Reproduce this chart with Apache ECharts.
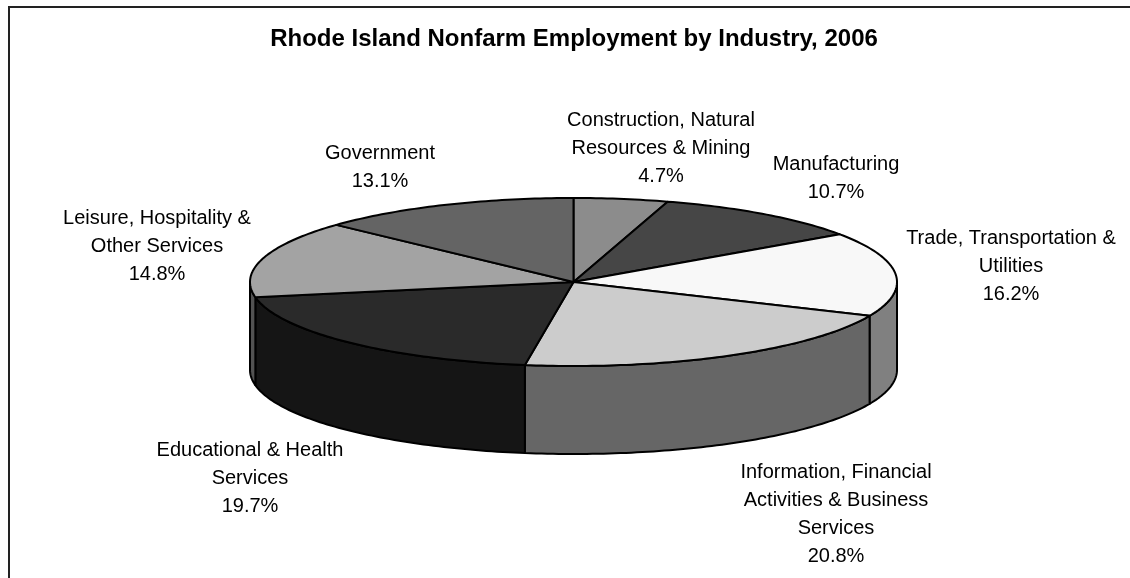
<!DOCTYPE html>
<html>
<head>
<meta charset="utf-8">
<style>html,body{margin:0;padding:0;background:#fff}#c{width:1130px;height:578px}</style>
<script src="https://cdn.jsdelivr.net/npm/echarts@6/dist/echarts.min.js"></script>
</head>
<body>
<div id="c"></div>
<script>
const chartTitle = 'Rhode Island Nonfarm Employment by Industry, 2006';
const categories = [
  'Construction, Natural\nResources & Mining',
  'Manufacturing',
  'Trade, Transportation &\nUtilities',
  'Information, Financial\nActivities & Business\nServices',
  'Educational & Health\nServices',
  'Leisure, Hospitality &\nOther Services',
  'Government'
];
const shares = [4.7, 10.7, 16.2, 20.8, 19.7, 14.8, 13.1];

// Styling, kept apart from the data
const topColors  = ['#8c8c8c', '#464646', '#f8f8f8', '#cccccc', '#2a2a2a', '#a3a3a3', '#646464'];
const sideColors = ['#707070', '#383838', '#808080', '#666666', '#151515', '#525252', '#505050'];
const labelAnchors = [[661, 107], [836, 151], [1011, 225], [836, 459], [250, 437], [157, 205], [380, 140]];
const PIE = { cx: 573.5, cy: 282, a: 323.5, b: 84, depth: 88 };
const LINE_H = 27.8;

const total = shares.reduce((s, v) => s + v, 0);
const deg = Math.PI / 180;
const pt = (t, dy) => [PIE.cx + PIE.a * Math.sin(t), PIE.cy - PIE.b * Math.cos(t) + (dy || 0)];
function arc(t0, t1, dy) {
  const n = Math.max(2, Math.ceil(Math.abs(t1 - t0) / deg));
  const out = [];
  for (let i = 0; i <= n; i++) out.push(pt(t0 + (t1 - t0) * i / n, dy));
  return out;
}

function renderSlice(params, api) {
  const i = params.dataIndex;
  const value = api.value(0);
  let before = 0;
  for (let k = 0; k < i; k++) before += shares[k];
  const t0 = before / total * 2 * Math.PI;
  const t1 = (before + value) / total * 2 * Math.PI;
  const lineStyle = { stroke: '#000', lineWidth: 2, lineJoin: 'round' };
  const children = [];

  const s0 = Math.max(t0, Math.PI / 2), s1 = Math.min(t1, 3 * Math.PI / 2);
  if (s1 > s0) {
    const upper = arc(s0, s1, 0);
    const lower = arc(s1, s0, PIE.depth);
    children.push({
      type: 'polygon',
      shape: { points: upper.concat(lower) },
      style: Object.assign({ fill: sideColors[i] }, lineStyle)
    });
  }
  children.push({
    type: 'polygon',
    shape: { points: [[PIE.cx, PIE.cy]].concat(arc(t0, t1, 0)) },
    style: Object.assign({ fill: topColors[i] }, lineStyle)
  });
  children.push({
    type: 'text',
    style: {
      x: labelAnchors[i][0], y: labelAnchors[i][1],
      text: categories[i] + '\n' + value.toFixed(1) + '%',
      align: 'center', verticalAlign: 'top',
      lineHeight: LINE_H, fontSize: 20,
      fontFamily: '"Liberation Sans", Arial, sans-serif',
      fill: '#000'
    }
  });
  return { type: 'group', children };
}

const chart = echarts.init(document.getElementById('c'), null, { renderer: 'canvas' });
chart.setOption({
  animation: false,
  backgroundColor: '#fff',
  title: {
    text: chartTitle,
    left: 569, top: 22, textAlign: 'center',
    textStyle: { fontFamily: '"Liberation Sans", Arial, sans-serif', fontSize: 24, fontWeight: 'bold', color: '#000' }
  },
  graphic: [{
    type: 'polyline', silent: true,
    shape: { points: [[9, 578], [9, 7], [1130, 7]] },
    style: { stroke: '#222', lineWidth: 2, fill: null }
  }],
  series: [{
    type: 'custom',
    coordinateSystem: 'none',
    renderItem: renderSlice,
    data: shares.map(v => [v])
  }]
});
</script>
</body>
</html>
